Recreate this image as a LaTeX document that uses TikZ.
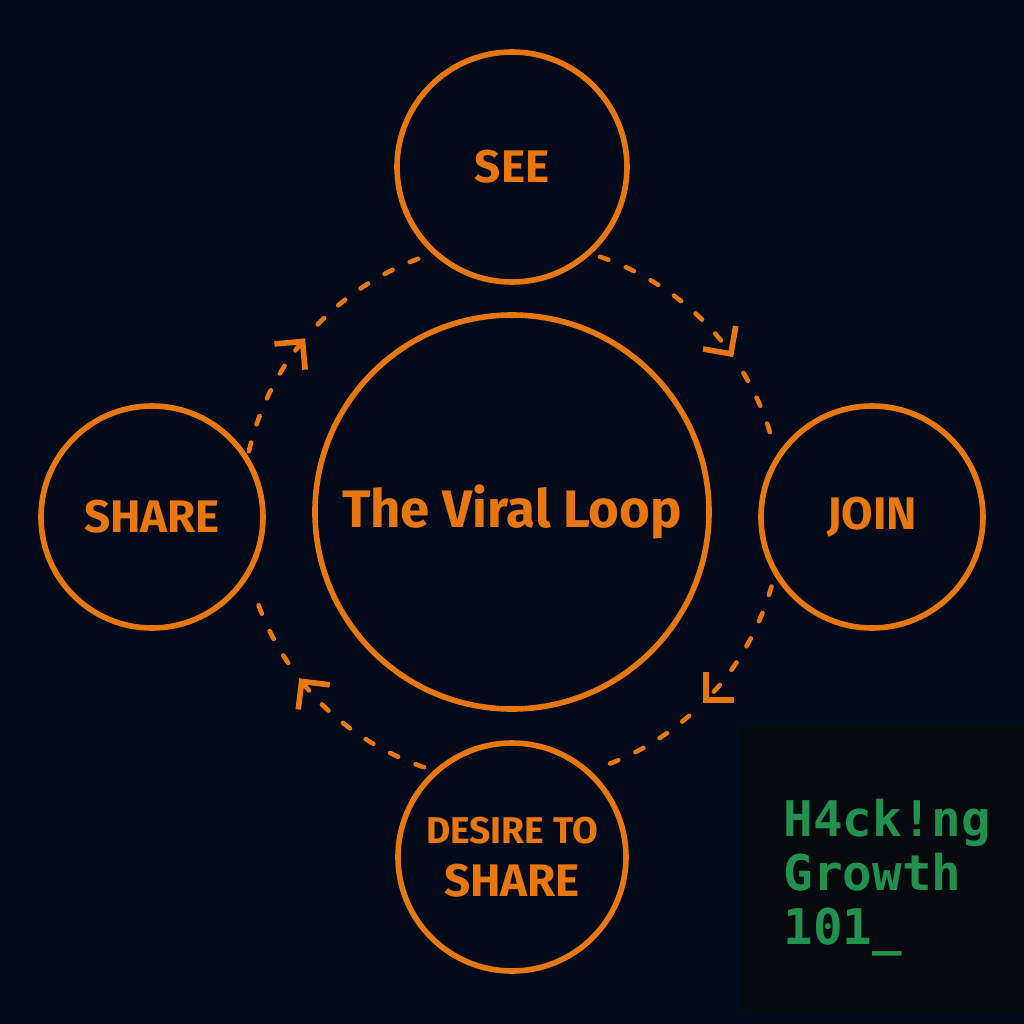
\documentclass[tikz,border=0pt]{standalone}
\usepackage{fontspec}
\setmainfont{Fira Sans}
\setmonofont{DejaVu Sans Mono}
\usetikzlibrary{arrows.meta}
\definecolor{bgnavy}{HTML}{030B1A}
\definecolor{loopor}{HTML}{E8770F}
\definecolor{termbg}{HTML}{06090D}
\definecolor{termgr}{HTML}{22904F}
\begin{document}
\begin{tikzpicture}[
    stage/.style={circle,draw=loopor,line width=1.6pt,text=loopor,align=center,inner sep=0pt,
        font=\bfseries\fontsize{13}{15}\selectfont},
    loopline/.style={loopor,line width=1.3pt,line cap=round,dash pattern=on 0.9mm off 1.9mm},
    looptip/.style={-{Straight Barb[length=2mm,width=4mm,line width=1.6pt]}}
]
        \fill[bgnavy] (-5.12,-5.12) rectangle (5.12,5.12);
        \useasboundingbox (-5.12,-5.12) rectangle (5.12,5.12);
        \fill[termbg] (2.28,-5.0) rectangle (5.12,-2.13);

        \node[stage,minimum size=3.94cm,font=\bfseries\fontsize{15}{18}\selectfont] (loop) at (0,0) {The Viral Loop};
        \node[stage,minimum size=2.3cm] (see) at (0,3.45) {SEE};
        \node[stage,minimum size=2.22cm] (share) at (-3.6,-0.05) {SHARE};
        \node[stage,minimum size=2.22cm] (join) at (3.6,-0.05) {JOIN};
        \node[stage,minimum size=2.28cm] (desire) at (0,-3.45)
        {{\fontsize{10.6}{15}\selectfont DESIRE TO}\\SHARE};

        % dashed loop, clockwise
        \coordinate (a1) at (71:2.7);
        \coordinate (a2) at (31:2.7);
        \coordinate (b1) at (-16:2.7);
        \coordinate (b2) at (-49:2.7);
        \coordinate (c1) at (-109:2.7);
        \coordinate (c2) at (-146:2.7);
        \coordinate (d1) at (167:2.7);
        \coordinate (d2) at (136:2.7);

        \draw[loopline,looptip] (a1) arc[start angle=71,end angle=35,radius=2.7];
        \draw[loopline] (a2) arc[start angle=31,end angle=14,radius=2.7];
        \draw[loopline,looptip] (b1) arc[start angle=-16,end angle=-45,radius=2.7];
        \draw[loopline] (b2) arc[start angle=-49,end angle=-71,radius=2.7];
        \draw[loopline,looptip] (c1) arc[start angle=-109,end angle=-142,radius=2.7];
        \draw[loopline] (c2) arc[start angle=-146,end angle=-163,radius=2.7];
        \draw[loopline,looptip] (d1) arc[start angle=167,end angle=140,radius=2.7];
        \draw[loopline] (d2) arc[start angle=136,end angle=109,radius=2.7];

        \node[anchor=north west,align=left,inner sep=0pt,text=termgr,
        font=\ttfamily\bfseries\fontsize{14}{15.4}\selectfont] (hack) at (2.71,-2.86)
        {H4ck!ng\\Growth\\101\_};
\end{tikzpicture}
\end{document}
